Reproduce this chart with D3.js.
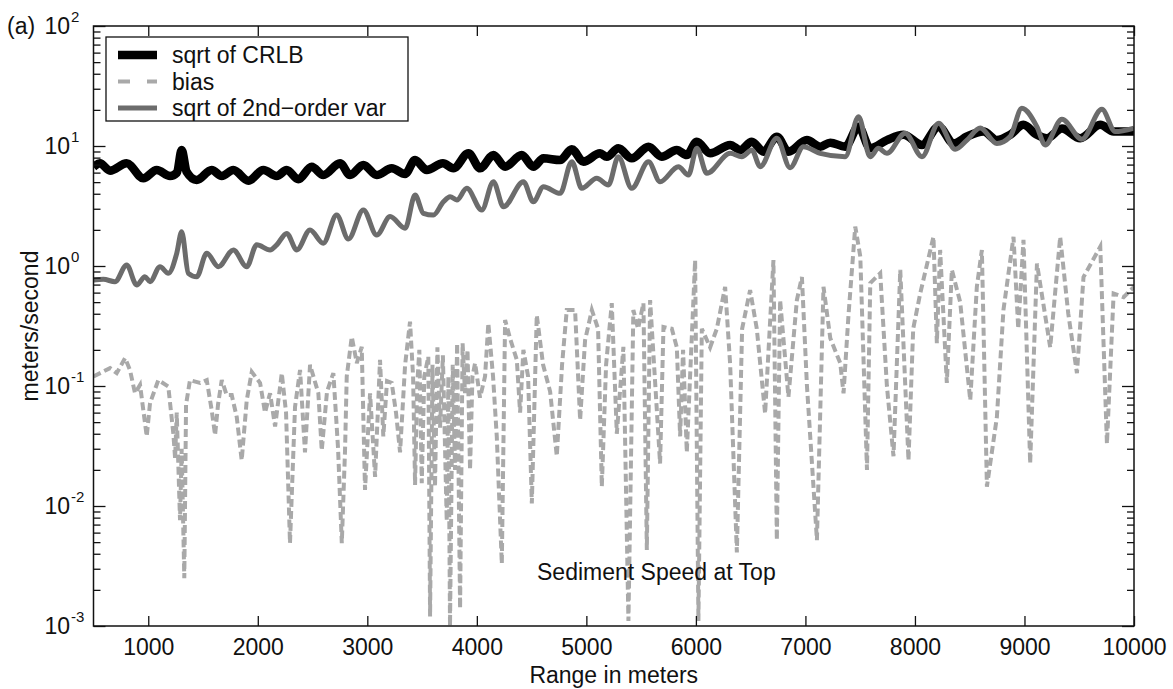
<!DOCTYPE html>
<html><head><meta charset="utf-8">
<script src="https://cdn.jsdelivr.net/npm/d3@7"></script>
<style>
body{margin:0;background:#fff}
text{font-family:"Liberation Sans",Arial,Helvetica,sans-serif;fill:#111}
</style>
</head><body>
<svg id="chart" width="1173" height="689"></svg>
<script>
// ---- data (range in meters, value in meters/second) ----
const seriesNames = ["sqrt of CRLB", "bias", "sqrt of 2nd\u2212order var"];

const crlbPoints = [[500,6.68],[559,7.18],[651,6.22],[803,7.18],[955,5.38],[1077,6.31],[1199,5.62],[1262,6.0],[1305,9.26],[1350,6.1],[1442,5.21],[1579,6.31],[1671,5.62],[1777,6.31],[1914,5.14],[2051,6.31],[2173,5.62],[2264,6.31],[2370,5.28],[2492,6.72],[2598,5.73],[2751,7.18],[2842,5.73],[2964,6.95],[3086,5.73],[3223,6.52],[3345,5.84],[3436,7.64],[3543,6.31],[3690,7.18],[3786,6.52],[3923,8.69],[4030,6.52],[4151,8.41],[4258,6.72],[4410,8.41],[4516,6.72],[4608,7.89],[4760,7.64],[4867,9.38],[4973,7.40],[5125,8.69],[5186,8.14],[5292,9.57],[5414,7.89],[5567,9.87],[5688,8.14],[5825,9.26],[5917,8.41],[6008,10.86],[6130,8.69],[6313,10.2],[6404,9.26],[6511,10.86],[6617,8.97],[6739,11.96],[6845,8.97],[7013,11.2],[7135,9.87],[7226,10.66],[7363,9.87],[7485,14.5],[7591,9.57],[7744,11.2],[7896,12.4],[8064,10.2],[8216,14.5],[8353,10.5],[8475,12.0],[8626,13.2],[8748,11.2],[8870,12.4],[8991,15.0],[9113,12.4],[9205,11.6],[9342,14.0],[9509,11.6],[9692,15.0],[9813,13.2],[10000,13.2]];

const varPoints = [[500,0.764],[590,0.775],[696,0.74],[803,1.02],[894,0.695],[970,0.814],[1016,0.74],[1107,0.987],[1183,0.869],[1260,1.276],[1305,1.93],[1366,0.869],[1442,0.814],[1534,1.276],[1640,0.987],[1777,1.36],[1899,0.987],[1990,1.50],[2112,1.36],[2173,1.50],[2264,1.87],[2356,1.36],[2477,2.0],[2598,1.55],[2720,2.66],[2827,1.68],[2964,2.93],[3086,1.81],[3208,2.58],[3345,2.06],[3436,3.9],[3512,2.75],[3603,2.66],[3695,3.43],[3756,3.78],[3817,3.55],[3908,4.44],[4045,2.93],[4151,5.04],[4243,3.12],[4425,5.04],[4516,3.43],[4608,4.58],[4760,4.03],[4867,7.40],[4958,4.44],[5095,5.38],[5201,4.73],[5292,8.14],[5414,4.44],[5567,7.40],[5673,5.04],[5840,6.72],[5932,5.73],[6008,9.57],[6100,5.93],[6313,8.69],[6419,8.14],[6511,9.26],[6587,6.72],[6739,11.6],[6860,6.6],[6982,9.87],[7135,8.69],[7363,8.14],[7485,17.5],[7591,8.14],[7667,9.57],[7744,8.69],[7911,12.8],[8064,8.14],[8216,15.5],[8368,9.38],[8475,11.2],[8596,14.1],[8748,10.5],[8870,12.0],[8976,20.6],[9113,14.5],[9189,10.2],[9342,16.7],[9524,11.4],[9707,20.2],[9828,13.2],[10000,14.1]];

const biasPoints = [[500,0.12],[651,0.141],[712,0.128],[788,0.171],[833,0.136],[879,0.087],[925,0.102],[986,0.038],[1016,0.072],[1092,0.112],[1183,0.099],[1229,0.04],[1245,0.025],[1260,0.06],[1290,0.0076],[1305,0.03],[1329,0.0025],[1345,0.07],[1381,0.112],[1473,0.106],[1534,0.112],[1579,0.063],[1610,0.039],[1637,0.07],[1671,0.112],[1716,0.084],[1762,0.084],[1808,0.055],[1853,0.024],[1899,0.076],[1945,0.131],[2021,0.106],[2066,0.06],[2112,0.087],[2158,0.046],[2219,0.128],[2258,0.06],[2294,0.0049],[2340,0.067],[2386,0.136],[2431,0.028],[2477,0.15],[2553,0.087],[2584,0.029],[2632,0.09],[2690,0.128],[2733,0.03],[2767,0.0049],[2797,0.03],[2812,0.12],[2858,0.257],[2904,0.155],[2949,0.212],[2979,0.0136],[3025,0.087],[3071,0.0175],[3116,0.165],[3146,0.038],[3180,0.11],[3223,0.106],[3262,0.06],[3299,0.028],[3345,0.15],[3390,0.344],[3418,0.12],[3436,0.015],[3455,0.1],[3475,0.2],[3497,0.0155],[3520,0.12],[3557,0.176],[3573,0.0012],[3595,0.15],[3618,0.0145],[3640,0.21],[3664,0.045],[3690,0.18],[3725,0.0075],[3740,0.12],[3755,0.001],[3780,0.15],[3801,0.02],[3820,0.227],[3847,0.0014],[3870,0.227],[3892,0.087],[3915,0.2],[3938,0.02],[3960,0.12],[3984,0.155],[4029,0.08],[4075,0.12],[4105,0.333],[4148,0.12],[4182,0.038],[4228,0.0033],[4258,0.355],[4303,0.25],[4365,0.165],[4395,0.06],[4425,0.2],[4468,0.12],[4502,0.0105],[4547,0.39],[4605,0.15],[4669,0.09],[4730,0.026],[4778,0.15],[4821,0.43],[4897,0.43],[4943,0.052],[4988,0.24],[5050,0.43],[5107,0.3],[5141,0.0145],[5180,0.15],[5232,0.49],[5278,0.04],[5338,0.212],[5384,0.0011],[5429,0.43],[5472,0.3],[5521,0.49],[5552,0.0043],[5582,0.52],[5673,0.0226],[5704,0.31],[5780,0.3],[5826,0.21],[5856,0.038],[5883,0.2],[5917,0.028],[5993,1.12],[6023,0.0011],[6054,0.3],[6130,0.21],[6191,0.3],[6267,0.67],[6313,0.15],[6374,0.0041],[6422,0.3],[6495,0.63],[6556,0.3],[6632,0.059],[6708,1.12],[6739,0.0052],[6769,0.52],[6845,0.081],[6922,0.52],[6968,0.81],[7014,0.1],[7105,0.0052],[7165,0.67],[7227,0.25],[7318,0.155],[7348,0.087],[7394,0.4],[7455,2.13],[7501,1.2],[7562,0.02],[7592,0.72],[7683,0.87],[7744,0.1],[7804,0.026],[7866,0.93],[7941,0.024],[7984,0.3],[8048,0.59],[8169,1.75],[8200,0.227],[8230,1.36],[8291,0.106],[8337,0.93],[8413,0.5],[8505,0.076],[8565,0.67],[8611,1.36],[8657,0.0145],[8748,0.055],[8808,0.43],[8900,1.75],[8943,0.3],[8991,1.65],[9052,0.0226],[9114,1.05],[9235,0.21],[9326,1.75],[9400,0.4],[9479,0.128],[9539,0.81],[9692,1.45],[9753,0.033],[9814,0.59],[9905,0.55],[10000,0.67]];

const xTicks = [1000,2000,3000,4000,5000,6000,7000,8000,9000,10000];
const yTicks = [1e-3,1e-2,1e-1,1e0,1e1,1e2];
const yTickExponents = ["-3","-2","-1","0","1","2"];

// ---- layout ----
const svg = d3.select("#chart");
const L = 93.5, R = 1134, T = 26, B = 626;
const x = d3.scaleLinear().domain([500,10000]).range([L,R]);
const y = d3.scaleLog().domain([1e-3,1e2]).range([B,T]);

const minorTicks = [];
for (let e=-3; e<2; e++) for (let m=2; m<10; m++) minorTicks.push(m*Math.pow(10,e));

svg.append("defs").append("clipPath").attr("id","plotclip")
  .append("rect").attr("x",L).attr("y",T).attr("width",R-L).attr("height",B-T);

// data lines
const plot = svg.append("g").attr("clip-path","url(#plotclip)");
const smooth = d3.line().x(d=>x(d[0])).y(d=>y(d[1])).curve(d3.curveMonotoneX);
const straight = d3.line().x(d=>x(d[0])).y(d=>y(d[1]));

plot.append("path").datum(crlbPoints).attr("d",smooth)
  .attr("fill","none").attr("stroke","#000").attr("stroke-width",8.5).attr("stroke-linejoin","round");
plot.append("path").datum(biasPoints).attr("d",straight)
  .attr("fill","none").attr("stroke","#a9a9a9").attr("stroke-width",4)
  .attr("stroke-dasharray","8,4");
plot.append("path").datum(varPoints).attr("d",smooth)
  .attr("fill","none").attr("stroke","#6c6c6c").attr("stroke-width",5).attr("stroke-linejoin","round");

// axes (inward ticks, box)
function styleAxis(g){ g.select(".domain").remove(); g.selectAll("line").attr("stroke","#111").attr("stroke-width",1.3); }
svg.append("g").attr("transform",`translate(0,${B})`)
  .call(d3.axisBottom(x).tickValues(xTicks).tickSize(-10).tickPadding(13).tickFormat(d3.format("d")))
  .call(styleAxis)
  .call(g=>g.selectAll("text").attr("font-size",23).attr("fill","#111")
    .attr("font-family",'"Liberation Sans",Arial,sans-serif'));
svg.append("g").attr("transform",`translate(0,${T})`)
  .call(d3.axisTop(x).tickValues(xTicks).tickSize(-10).tickFormat(""))
  .call(styleAxis);
svg.append("g").attr("transform",`translate(${L},0)`)
  .call(d3.axisLeft(y).tickValues(yTicks).tickSize(-12).tickFormat(""))
  .call(styleAxis);
svg.append("g").attr("transform",`translate(${L},0)`)
  .call(d3.axisLeft(y).tickValues(minorTicks).tickSize(-7).tickFormat(""))
  .call(styleAxis);
svg.append("g").attr("transform",`translate(${R},0)`)
  .call(d3.axisRight(y).tickValues(yTicks).tickSize(-12).tickFormat(""))
  .call(styleAxis);
svg.append("g").attr("transform",`translate(${R},0)`)
  .call(d3.axisRight(y).tickValues(minorTicks).tickSize(-7).tickFormat(""))
  .call(styleAxis);

svg.append("rect").attr("x",L).attr("y",T).attr("width",R-L).attr("height",B-T)
  .attr("fill","none").attr("stroke","#111").attr("stroke-width",1.5);

// y tick labels 10^n
const yl = svg.append("g");
yTicks.forEach((v,i)=>{
  const yy = y(v);
  yl.append("text").attr("x",70).attr("y",yy+8).attr("text-anchor","end")
    .attr("font-size",23).text("10");
  yl.append("text").attr("x",71).attr("y",yy-4).attr("text-anchor","start")
    .attr("font-size",15).text(yTickExponents[i]);
});

// labels
svg.append("text").attr("x",7).attr("y",34).attr("font-size",23).text("(a)");
svg.append("text").attr("x",(L+R)/2).attr("y",683).attr("text-anchor","middle")
  .attr("font-size",23).text("Range in meters");
svg.append("text").attr("transform",`translate(30,${(T+B)/2}) rotate(-90)`)
  .attr("text-anchor","middle").attr("dominant-baseline","central")
  .attr("font-size",23).text("meters/second");
svg.append("text").attr("x",537).attr("y",580).attr("font-size",23).text("Sediment Speed at Top");

// legend
const lg = svg.append("g");
lg.append("rect").attr("x",106).attr("y",37).attr("width",302).attr("height",84)
  .attr("fill","#fff").attr("stroke","#111").attr("stroke-width",1.3);
const legStyles = [
  {stroke:"#000", w:8.5, dash:null},
  {stroke:"#a9a9a9", w:4, dash:"12,17"},
  {stroke:"#6c6c6c", w:5, dash:null}
];
seriesNames.forEach((name,i)=>{
  const cy = 55 + i*26.5;
  const ln = lg.append("line").attr("x1",118).attr("x2",157).attr("y1",cy).attr("y2",cy)
    .attr("stroke",legStyles[i].stroke).attr("stroke-width",legStyles[i].w);
  if (legStyles[i].dash) ln.attr("stroke-dasharray",legStyles[i].dash);
  lg.append("text").attr("x",172).attr("y",cy+8).attr("font-size",23).text(name);
});
</script>
</body></html>
